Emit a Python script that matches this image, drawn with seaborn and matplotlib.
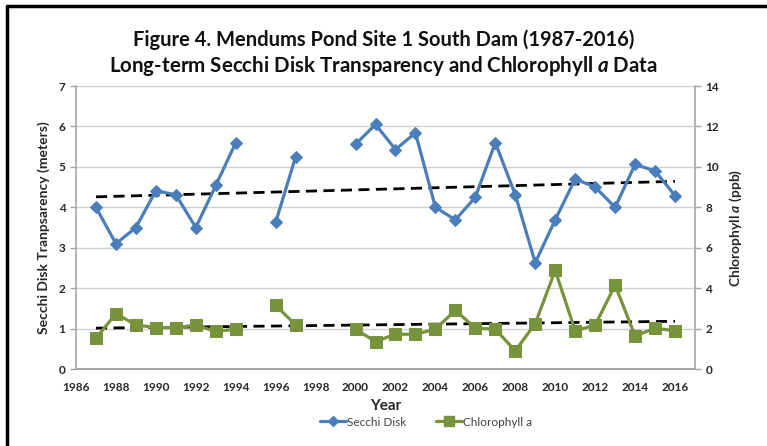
import numpy as np
import pandas as pd
import matplotlib
matplotlib.use("Agg")
import matplotlib.pyplot as plt
import seaborn as sns

# values (NaN = no sample that year)
years = list(range(1987, 2017))
secchi = [4.0, 3.1, 3.5, 4.41, 4.31, 3.5, 4.54, 5.6, np.nan, 3.63,
          5.25, np.nan, np.nan, 5.56, 6.05, 5.43, 5.84, 4.0, 3.69, 4.25,
          5.6, 4.31, 2.63, 3.69, 4.7, 4.5, 4.0, 5.06, 4.9, 4.29]
chla = [1.53, 2.74, 2.18, 2.05, 2.05, 2.17, 1.86, 1.97, np.nan, 3.15,
        2.18, np.nan, np.nan, 1.97, 1.36, 1.72, 1.72, 1.97, 2.91, 2.02,
        1.97, 0.9, 2.25, 4.88, 1.89, 2.17, 4.15, 1.64, 2.02, 1.89]
x_ticks = list(range(1986, 2017, 2))

SECCHI_COL = "#4a7ebb"
CHLA_COL = "#77933c"
TXT = "#262626"
DASH = (0, (4, 2.3))

sns.set_style("white")
plt.rcParams["font.family"] = ["Lato", "DejaVu Sans"]
plt.rcParams["mathtext.fontset"] = "custom"
plt.rcParams["mathtext.rm"] = "Lato:bold"
plt.rcParams["mathtext.it"] = "Lato:bold:italic"

df = pd.DataFrame({"year": years, "secchi": secchi, "chla": chla})
# segment ids so the lines break where a year is missing
df["seg_s"] = df["secchi"].isna().cumsum()
df["seg_c"] = df["chla"].isna().cumsum()

fig = plt.figure(figsize=(7.67, 4.46), dpi=100)
ax = fig.add_axes([0.0991, 0.1726, 0.807, 0.6345])
ax2 = ax.twinx()

ds = df.dropna(subset=["secchi"])
dc = df.dropna(subset=["chla"])

sns.lineplot(data=ds, x="year", y="secchi", units="seg_s", estimator=None,
             color=SECCHI_COL, lw=2.3, marker="D", markersize=6,
             markeredgecolor=SECCHI_COL, ax=ax, zorder=3)
sns.regplot(data=ds, x="year", y="secchi", scatter=False, ci=None,
            line_kws={"color": "black", "lw": 2.0, "ls": DASH}, ax=ax)

sns.lineplot(data=dc, x="year", y="chla", units="seg_c", estimator=None,
             color=CHLA_COL, lw=2.3, marker="s", markersize=8,
             markeredgecolor=CHLA_COL, ax=ax2, zorder=3)
sns.regplot(data=dc, x="year", y="chla", scatter=False, ci=None,
            line_kws={"color": "black", "lw": 2.0, "ls": DASH}, ax=ax2)

ax.set_xlim(1986, 2017)
ax.set_ylim(0, 7)
ax2.set_ylim(0, 14)
ax.set_xticks(x_ticks)
ax.set_yticks(range(0, 8))
ax2.set_yticks(range(0, 15, 2))
ax.yaxis.grid(True, color="#d0d0d0", lw=1)
ax.set_axisbelow(True)

for a in (ax, ax2):
    a.spines["top"].set_visible(False)
    for sp in a.spines.values():
        sp.set_color("#a6a6a6")
        sp.set_linewidth(1.2)
    a.tick_params(length=4, width=1, color="#a6a6a6", labelsize=8.5,
                  labelcolor=TXT)
    for lab in a.get_xticklabels() + a.get_yticklabels():
        lab.set_fontweight("bold")
ax2.spines["left"].set_visible(False)
ax.spines["right"].set_visible(False)
ax.tick_params(axis="x", length=4, pad=5)
ax.set_xlabel("Year", fontsize=11, fontweight="bold", color=TXT, labelpad=5)
ax.set_ylabel("Secchi Disk Tranpsarency (meters)", fontsize=10,
              fontweight="bold", color=TXT, labelpad=6)
ax2.set_ylabel(r"Chlorophyll $a$ (ppb)", fontsize=10, fontweight="bold",
               color=TXT, labelpad=6)

fig.text(0.5, 1 - 40 / 446, "Figure 4. Mendums Pond Site 1 South Dam (1987-2016)",
         ha="center", va="center", fontsize=14.5, fontweight="bold", color="#111111")
fig.text(0.5, 1 - 66 / 446, r"Long-term Secchi Disk Transparency and Chlorophyll $a$ Data",
         ha="center", va="center", fontsize=14.8, fontweight="bold", color="#111111")

h1, = ax.plot([], [], color=SECCHI_COL, lw=2.3, marker="D", markersize=5)
h2, = ax.plot([], [], color=CHLA_COL, lw=2.3, marker="s", markersize=7)
fig.legend([h1, h2], ["Secchi Disk", "Chlorophyll a"], loc="center",
           bbox_to_anchor=(426 / 767, 1 - 422 / 446), ncol=2, frameon=False,
           fontsize=8.5, handlelength=2.2, handletextpad=0.1, columnspacing=2.5,
           labelcolor="#404040")

# frame lines on the left and top edges of the picture
fig.add_artist(plt.Line2D([7 / 767, 7 / 767], [0, 1 - 6 / 446], color="black", lw=2.5))
fig.add_artist(plt.Line2D([7 / 767, 1], [1 - 6 / 446, 1 - 6 / 446], color="black", lw=2.5))

fig.savefig("out.png", dpi=100)
